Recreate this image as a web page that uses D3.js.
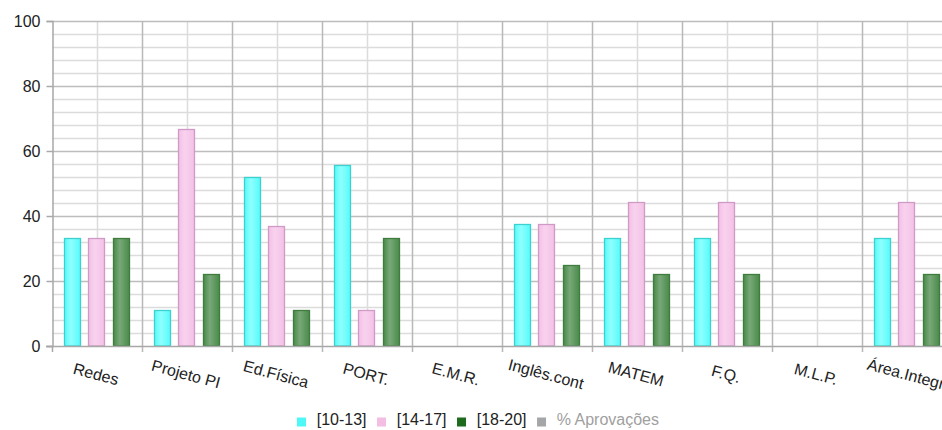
<!DOCTYPE html>
<html>
<head>
<meta charset="utf-8">
<script src="https://cdn.jsdelivr.net/npm/d3@7"></script>
<style>
  html, body { margin: 0; padding: 0; background: #fff; overflow: hidden; }
  svg { display: block; font-family: "Liberation Sans", Arial, sans-serif; }
</style>
</head>
<body>
<svg id="chart" width="942" height="430"></svg>
<script>
const categories = ["Redes", "Projeto PI", "Ed.Física", "PORT.", "E.M.R.", "Inglês.cont", "MATEM", "F.Q.", "M.L.P.", "Área.Integr"];
const s10_13 = [33.3, 11.1, 51.9, 55.6, 0, 37.5, 33.3, 33.3, 0, 33.3];
const s14_17 = [33.3, 66.7, 37.0, 11.1, 0, 37.5, 44.4, 44.4, 0, 44.4];
const s18_20 = [33.3, 22.2, 11.1, 33.3, 0, 25.0, 22.2, 22.2, 0, 22.2];
const seriesNames = ["[10-13]", "[14-17]", "[18-20]", "% Aprovações"];
const yTicks = [0, 20, 40, 60, 80, 100];
const yMinorStep = 4;

(function () {
const seriesValues = [s10_13, s14_17, s18_20];
const seriesStyle = [
  { id: "gCyan", edge: "#55fbfb", mid: "#8ffffe", stroke: "#3cd0cf" },
  { id: "gPink", edge: "#f4c0e6", mid: "#f8d2ee", stroke: "#cf9ac6" },
  { id: "gGreen", edge: "#4a8a4a", mid: "#78a878", stroke: "#3f7d3f" }
];
const legendColors = ["#4ff8f8", "#f4bde4", "#1e6b1e", "#a5a6a8"];
const legendTextColors = ["#222", "#222", "#222", "#a0a0a0"];

const svg = d3.select("#chart");
const pLeft = 52, pTop = 21, pBottom = 346, catStep = 90;
const x = d3.scaleBand().domain(categories).range([pLeft, pLeft + catStep * categories.length]).padding(0);
const x1 = d3.scaleBand().domain([0, 1, 2]).range([11.5, 78.5]).paddingInner(0.3).paddingOuter(0);
const y = d3.scaleLinear().domain([0, 100]).range([pBottom, pTop]);

const defs = svg.append("defs");
seriesStyle.forEach(s => {
  const g = defs.append("linearGradient").attr("id", s.id).attr("x1", "0").attr("x2", "1").attr("y1", "0").attr("y2", "0");
  g.append("stop").attr("offset", "0%").attr("stop-color", s.edge);
  g.append("stop").attr("offset", "40%").attr("stop-color", s.mid);
  g.append("stop").attr("offset", "100%").attr("stop-color", s.edge);
});

const minor = d3.range(0, 100 + 0.001, yMinorStep).filter(v => yTicks.indexOf(v) < 0);
svg.append("g").selectAll("line").data(minor).join("line")
  .attr("x1", pLeft).attr("x2", 942)
  .attr("y1", d => Math.round(y(d)) + 0.5).attr("y2", d => Math.round(y(d)) + 0.5)
  .attr("stroke", "#dcdcdc").attr("stroke-width", 1.5);

svg.append("g").selectAll("line").data(categories).join("line")
  .attr("x1", d => Math.round(x(d) + x.bandwidth() / 2) + 0.5)
  .attr("x2", d => Math.round(x(d) + x.bandwidth() / 2) + 0.5)
  .attr("y1", pTop).attr("y2", pBottom)
  .attr("stroke", "#dcdcdc").attr("stroke-width", 1.5);

svg.append("g").selectAll("line").data(yTicks.filter(v => v > 0)).join("line")
  .attr("x1", pLeft).attr("x2", 942)
  .attr("y1", d => Math.round(y(d)) + 0.5).attr("y2", d => Math.round(y(d)) + 0.5)
  .attr("stroke", "#bdbdbd").attr("stroke-width", 1.5);

svg.append("g").selectAll("line").data(categories.slice(1)).join("line")
  .attr("x1", d => Math.round(x(d)) + 0.5).attr("x2", d => Math.round(x(d)) + 0.5)
  .attr("y1", pTop).attr("y2", pBottom + 6)
  .attr("stroke", "#b8b8b8").attr("stroke-width", 1.5);

const barData = [];
categories.forEach((c, i) => {
  seriesValues.forEach((vals, s) => {
    if (vals[i] > 0) barData.push({ c, s, v: vals[i] });
  });
});
svg.append("g").selectAll("rect").data(barData).join("rect")
  .attr("x", d => Math.round(x(d.c) + x1(d.s)) + 0.5)
  .attr("width", Math.round(x1.bandwidth()) - 1)
  .attr("y", d => Math.round(y(d.v)) + 0.5)
  .attr("height", d => pBottom - Math.round(y(d.v)) - 0.5)
  .attr("fill", d => `url(#${seriesStyle[d.s].id})`)
  .attr("stroke", d => seriesStyle[d.s].stroke)
  .attr("stroke-width", 1.3);

const yAxis = d3.axisLeft(y).tickValues(yTicks).tickSize(6).tickPadding(6);
const gy = svg.append("g").attr("transform", `translate(${pLeft + 0.5},0)`).call(yAxis);
gy.select(".domain").attr("stroke", "#a8a8a8").attr("stroke-width", 1.5);
gy.selectAll(".tick line").attr("stroke", "#a8a8a8").attr("stroke-width", 1.5);
gy.selectAll(".tick text").attr("fill", "#222").attr("font-size", 16)
  .attr("font-family", "'Liberation Sans', Arial, sans-serif");

svg.append("line").attr("x1", pLeft - 6).attr("x2", 942)
  .attr("y1", pBottom + 0.5).attr("y2", pBottom + 0.5)
  .attr("stroke", "#a8a8a8").attr("stroke-width", 1.5);
svg.append("line").attr("x1", pLeft + 0.5).attr("x2", pLeft + 0.5)
  .attr("y1", pBottom).attr("y2", pBottom + 6)
  .attr("stroke", "#a8a8a8").attr("stroke-width", 1.5);

svg.append("g").selectAll("text").data(categories).join("text")
  .attr("transform", d => `translate(${x(d) + x.bandwidth() / 2 - 1},374) rotate(15)`)
  .attr("text-anchor", "middle").attr("dy", "0.35em")
  .attr("font-size", 16).attr("fill", "#222")
  .text(d => d);

const lg = svg.append("g");
let lx = 297;
seriesNames.forEach((name, i) => {
  lg.append("rect").attr("x", lx).attr("y", 417.5).attr("width", 9).attr("height", 9)
    .attr("fill", legendColors[i]);
  const t = lg.append("text").attr("x", lx + 19.7).attr("y", 425)
    .attr("font-size", 16).attr("fill", legendTextColors[i]).text(name);
  lx += 19.7 + t.node().getComputedTextLength() + 10.5;
});
})();
</script>
</body>
</html>
